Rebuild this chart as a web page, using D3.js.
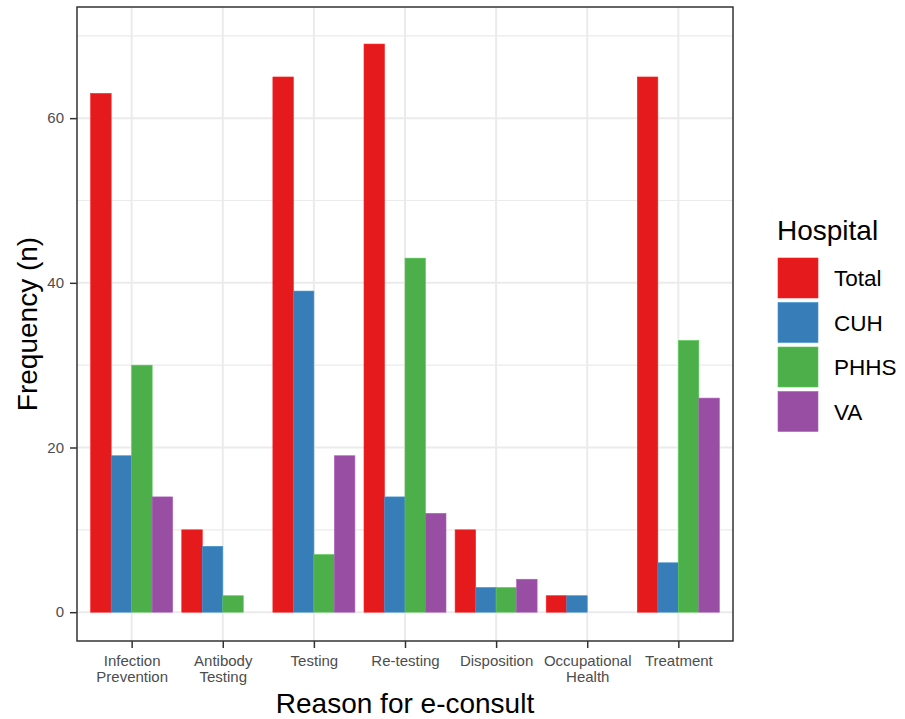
<!DOCTYPE html>
<html lang="en">
<head>
  <meta charset="UTF-8">
  <title>Reason for e-consult</title>
  <script src="https://d3js.org/d3.v7.min.js"></script>
  <style>
    body { margin: 0; background: white; font-family: "Liberation Sans", Arial, sans-serif; }
    .grid line { stroke: #ebebeb; }
    .tick text { fill: #4d4d4d; font-size: 15px; font-family: "Liberation Sans", Arial, sans-serif; }
  </style>
</head>
<body>
<svg width="905" height="719"></svg>
<script>
  const categories = ["Infection Prevention", "Antibody Testing", "Testing", "Re-testing", "Disposition", "Occupational Health", "Treatment"];
  const hospitals = ["Total", "CUH", "PHHS", "VA"];
  const total = [63, 10, 65, 69, 10, 2, 65];
  const cuh   = [19, 8, 39, 14, 3, 2, 6];
  const phhs  = [30, 2, 7, 43, 3, 0, 33];
  const va    = [14, 0, 19, 12, 4, 0, 26];
  const yTicks = [0, 20, 40, 60];
  const yMinor = [10, 30, 50, 70];
  const colors = ["#e41a1c", "#377eb8", "#4daf4a", "#984ea3"];

  const series = [total, cuh, phhs, va];
  const data = [];
  categories.forEach((c, i) => {
    hospitals.forEach((h, j) => data.push({ cat: c, hosp: h, value: series[j][i] }));
  });

  const svg = d3.select("svg");
  const panel = { left: 77, top: 7, right: 733, bottom: 641 };

  // band positions like ggplot's discrete scale (0.6 expansion each side)
  const step = (panel.right - panel.left) / (categories.length + 0.2);
  const x = d3.scalePoint()
    .domain(categories)
    .range([panel.left + 0.6 * step, panel.right - 0.6 * step]);

  const y = d3.scaleLinear()
    .domain([-3.5, 73.5])
    .range([panel.bottom, panel.top]);

  const color = d3.scaleOrdinal().domain(hospitals).range(colors);
  const dodge = d3.scaleBand().domain(hospitals).range([-0.45 * step, 0.45 * step]);

  // gridlines
  const grid = svg.append("g").attr("class", "grid");
  grid.selectAll(".minor").data(yMinor).enter().append("line")
    .attr("x1", panel.left).attr("x2", panel.right)
    .attr("y1", d => y(d)).attr("y2", d => y(d))
    .attr("stroke-width", 1.2);
  grid.selectAll(".majorY").data(yTicks).enter().append("line")
    .attr("x1", panel.left).attr("x2", panel.right)
    .attr("y1", d => y(d)).attr("y2", d => y(d))
    .attr("stroke-width", 2);
  grid.selectAll(".majorX").data(categories).enter().append("line")
    .attr("y1", panel.top).attr("y2", panel.bottom)
    .attr("x1", d => x(d)).attr("x2", d => x(d))
    .attr("stroke-width", 2);

  // bars
  svg.append("g").selectAll("rect")
    .data(data.filter(d => d.value > 0))
    .enter().append("rect")
    .attr("x", d => x(d.cat) + dodge(d.hosp))
    .attr("y", d => y(d.value))
    .attr("width", dodge.bandwidth())
    .attr("height", d => y(0) - y(d.value))
    .attr("fill", d => color(d.hosp))
    .attr("stroke", d => d3.color(color(d.hosp)).brighter(0.4))
    .attr("stroke-width", 0.6);

  // panel border
  svg.append("rect")
    .attr("x", panel.left).attr("y", panel.top)
    .attr("width", panel.right - panel.left).attr("height", panel.bottom - panel.top)
    .attr("fill", "none").attr("stroke", "#333").attr("stroke-width", 1.5);

  // axes
  const yAxis = svg.append("g")
    .attr("transform", `translate(${panel.left},0)`)
    .call(d3.axisLeft(y).tickValues(yTicks).tickSize(7).tickPadding(6));
  yAxis.select(".domain").remove();
  yAxis.selectAll(".tick line").attr("stroke", "#333").attr("stroke-width", 1.5);

  const xAxis = svg.append("g")
    .attr("transform", `translate(0,${panel.bottom})`)
    .call(d3.axisBottom(x).tickSize(7).tickPadding(7));
  xAxis.select(".domain").remove();
  xAxis.selectAll(".tick line").attr("stroke", "#333").attr("stroke-width", 1.5);
  xAxis.selectAll(".tick text").each(function(d) {
    const t = d3.select(this);
    const words = d.split(" ");
    t.text(null);
    words.forEach((w, i) => {
      t.append("tspan").attr("x", 0).attr("dy", i === 0 ? "0.71em" : "1.1em").text(w);
    });
  });

  // axis titles
  svg.append("text")
    .attr("x", (panel.left + panel.right) / 2).attr("y", 713)
    .attr("text-anchor", "middle").attr("font-size", 28).attr("fill", "black")
    .text("Reason for e-consult");
  svg.append("text")
    .attr("transform", `translate(37,${(panel.top + panel.bottom) / 2}) rotate(-90)`)
    .attr("text-anchor", "middle").attr("font-size", 28).attr("fill", "black")
    .text("Frequency (n)");

  // legend
  const legend = svg.append("g").attr("transform", "translate(777,240)");
  legend.append("text").attr("x", 0).attr("y", 0)
    .attr("font-size", 28).attr("fill", "black").text("Hospital");
  const items = legend.selectAll(".item").data(hospitals).enter().append("g")
    .attr("transform", (d, i) => `translate(0,${17 + i * 44.5})`);
  items.append("rect")
    .attr("x", 1).attr("y", 1).attr("width", 40).attr("height", 40)
    .attr("fill", d => color(d))
    .attr("stroke", d => d3.color(color(d)).brighter(0.4)).attr("stroke-width", 0.6);
  items.append("text")
    .attr("x", 57).attr("y", 21).attr("dy", "0.36em")
    .attr("font-size", 22.5).attr("fill", "black").text(d => d);
</script>
</body>
</html>
